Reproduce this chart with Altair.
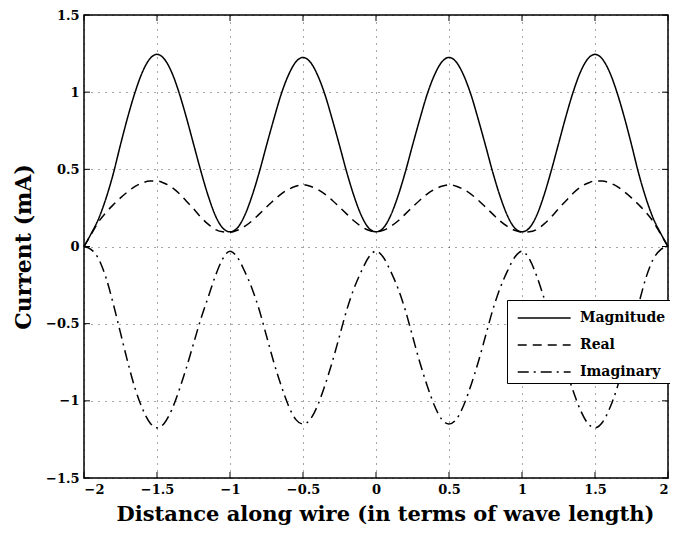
import altair as alt
import pandas as pd

# ---- data ----
x_vals = [-2.00, -1.95, -1.90, -1.85, -1.80, -1.75, -1.70, -1.65, -1.60, -1.55,
          -1.50, -1.45, -1.40, -1.35, -1.30, -1.25, -1.20, -1.15, -1.10, -1.05,
          -1.00, -0.95, -0.90, -0.85, -0.80, -0.75, -0.70, -0.65, -0.60, -0.55,
          -0.50, -0.45, -0.40, -0.35, -0.30, -0.25, -0.20, -0.15, -0.10, -0.05,
          0.00,
          0.05, 0.10, 0.15, 0.20, 0.25, 0.30, 0.35, 0.40, 0.45, 0.50,
          0.55, 0.60, 0.65, 0.70, 0.75, 0.80, 0.85, 0.90, 0.95, 1.00,
          1.05, 1.10, 1.15, 1.20, 1.25, 1.30, 1.35, 1.40, 1.45, 1.50,
          1.55, 1.60, 1.65, 1.70, 1.75, 1.80, 1.85, 1.90, 1.95, 2.00]

magnitude = [0.000, 0.085, 0.180, 0.310, 0.470, 0.660, 0.840, 1.000, 1.130, 1.215,
             1.245, 1.215, 1.130, 1.000, 0.840, 0.665, 0.490, 0.330, 0.200, 0.120,
             0.095, 0.120, 0.200, 0.325, 0.480, 0.655, 0.825, 0.985, 1.110, 1.195,
             1.225, 1.195, 1.110, 0.985, 0.825, 0.655, 0.480, 0.325, 0.200, 0.120,
             0.095,
             0.120, 0.200, 0.325, 0.480, 0.655, 0.825, 0.985, 1.110, 1.195, 1.225,
             1.195, 1.110, 0.985, 0.825, 0.655, 0.480, 0.325, 0.200, 0.120, 0.095,
             0.120, 0.200, 0.330, 0.490, 0.665, 0.840, 1.000, 1.130, 1.215, 1.245,
             1.215, 1.130, 1.000, 0.840, 0.660, 0.470, 0.310, 0.180, 0.085, 0.000]

real = [0.000, 0.080, 0.160, 0.220, 0.270, 0.315, 0.355, 0.390, 0.412, 0.424,
        0.425, 0.410, 0.385, 0.345, 0.295, 0.245, 0.190, 0.145, 0.110, 0.095,
        0.093, 0.105, 0.130, 0.165, 0.210, 0.255, 0.300, 0.340, 0.370, 0.390,
        0.400, 0.390, 0.370, 0.340, 0.300, 0.255, 0.210, 0.165, 0.130, 0.105,
        0.095,
        0.105, 0.130, 0.165, 0.210, 0.255, 0.300, 0.340, 0.370, 0.390, 0.400,
        0.390, 0.370, 0.340, 0.300, 0.255, 0.210, 0.165, 0.130, 0.105, 0.093,
        0.095, 0.110, 0.145, 0.190, 0.245, 0.295, 0.345, 0.385, 0.410, 0.425,
        0.424, 0.412, 0.390, 0.355, 0.315, 0.270, 0.220, 0.160, 0.080, 0.000]

imaginary = [0.000, -0.020, -0.080, -0.200, -0.370, -0.560, -0.750, -0.920, -1.050, -1.140,
             -1.175, -1.145, -1.060, -0.935, -0.790, -0.630, -0.470, -0.330, -0.190, -0.080,
             -0.030, -0.070, -0.160, -0.270, -0.410, -0.580, -0.750, -0.900, -1.030, -1.120,
             -1.150, -1.120, -1.030, -0.900, -0.750, -0.580, -0.410, -0.270, -0.160, -0.070,
             -0.030,
             -0.070, -0.160, -0.270, -0.410, -0.580, -0.750, -0.900, -1.030, -1.120, -1.150,
             -1.120, -1.030, -0.900, -0.750, -0.580, -0.410, -0.270, -0.160, -0.070, -0.030,
             -0.080, -0.190, -0.330, -0.470, -0.630, -0.790, -0.935, -1.060, -1.145, -1.175,
             -1.140, -1.050, -0.920, -0.750, -0.560, -0.370, -0.200, -0.080, -0.020, 0.000]

series_names = ["Magnitude", "Real", "Imaginary"]
x_ticks = [-2, -1.5, -1, -0.5, 0, 0.5, 1, 1.5, 2]
y_ticks = [-1.5, -1, -0.5, 0, 0.5, 1, 1.5]

rows = []
for name, vals in zip(series_names, [magnitude, real, imaginary]):
    for xv, yv in zip(x_vals, vals):
        rows.append({"x": xv, "value": yv, "series": name})
df = pd.DataFrame(rows)

W, H = 584, 463
FONT = "DejaVu Serif"
TICK = 6

xscale = alt.Scale(domain=[-2, 2], nice=False, zero=False)
yscale = alt.Scale(domain=[-1.5, 1.5], nice=False, zero=False)
xaxis = alt.Axis(values=x_ticks, format="~g",
                 title="Distance along wire (in terms of wave length)",
                 titleFontSize=21, titlePadding=7, titleX=301)
yaxis = alt.Axis(values=y_ticks, format="~g", title="Current (mA)",
                 titleFontSize=22, titlePadding=10)

lines = alt.Chart(df).mark_line(color="black", strokeWidth=1.5, interpolate="monotone").encode(
    x=alt.X("x:Q", scale=xscale, axis=xaxis),
    y=alt.Y("value:Q", scale=yscale, axis=yaxis),
    strokeDash=alt.StrokeDash(
        "series:N",
        scale=alt.Scale(domain=series_names, range=[[1, 0], [9, 6], [11, 5, 2, 5]]),
        legend=alt.Legend(title=None, orient="none", legendX=423, legendY=285,
                          strokeColor="black", fillColor="white", padding=4,
                          symbolType="M-0.55,0H3.45", symbolSize=700,
                          symbolStrokeWidth=1.5, symbolStrokeColor="black",
                          symbolFillColor="transparent",
                          labelFont=FONT, labelFontSize=14, labelFontWeight="bold",
                          labelColor="black", labelOffset=41, rowPadding=6),
    ),
)

xt = pd.DataFrame({"t": x_ticks})
yt = pd.DataFrame({"t": y_ticks})

tick_bottom = alt.Chart(xt).mark_rule(color="black", strokeWidth=1).encode(
    x=alt.X("t:Q", scale=xscale, axis=xaxis), y=alt.value(H), y2=alt.value(H - TICK))
tick_top = alt.Chart(xt).mark_rule(color="black", strokeWidth=1).encode(
    x=alt.X("t:Q", scale=xscale, axis=xaxis), y=alt.value(0), y2=alt.value(TICK))
tick_left = alt.Chart(yt).mark_rule(color="black", strokeWidth=1).encode(
    y=alt.Y("t:Q", scale=yscale, axis=yaxis), x=alt.value(0), x2=alt.value(TICK))
tick_right = alt.Chart(yt).mark_rule(color="black", strokeWidth=1).encode(
    y=alt.Y("t:Q", scale=yscale, axis=yaxis), x=alt.value(W), x2=alt.value(W - TICK))

chart = alt.layer(lines, tick_bottom, tick_top, tick_left, tick_right).properties(
    width=W, height=H,
    padding={"left": 76, "top": 7, "right": 2, "bottom": 52},
    autosize=alt.AutoSizeParams(type="none"),
    background="white",
).configure_view(
    stroke="black", strokeWidth=1.5
).configure_axis(
    domain=False, ticks=False,
    grid=True, gridColor="black", gridOpacity=0.7, gridDash=[1, 6], gridWidth=1,
    labelFont=FONT, labelFontSize=13, labelFontWeight="bold", labelColor="black",
    labelPadding=5,
    titleFont=FONT, titleFontWeight="bold", titleColor="black",
)

chart.save("out.html", embed_options={"renderer": "svg", "actions": False})
